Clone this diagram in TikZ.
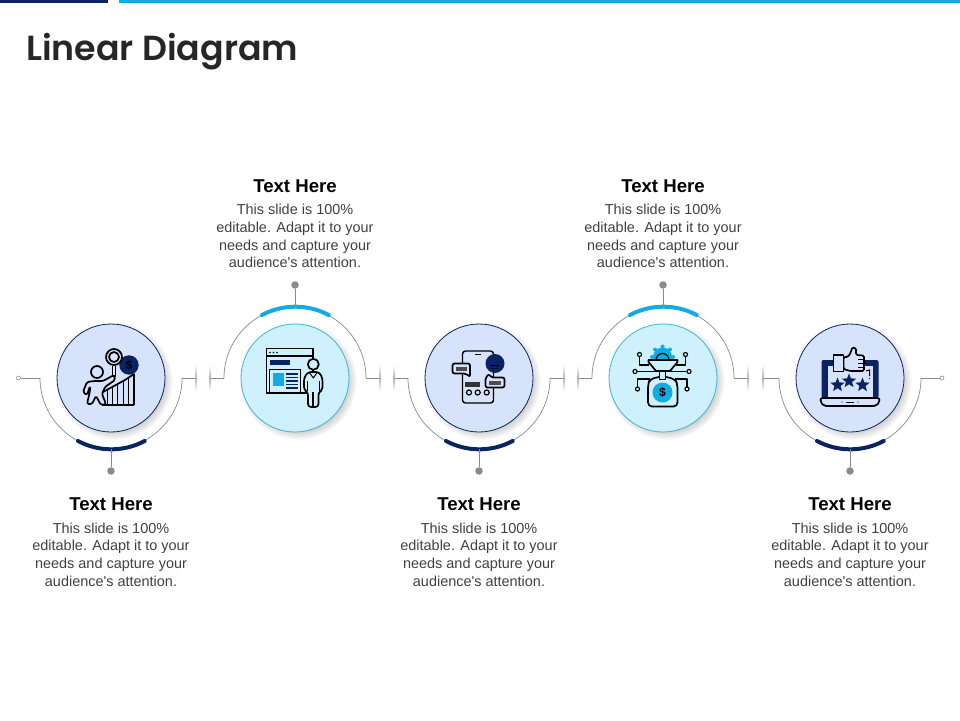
\documentclass[tikz,border=0pt]{standalone}
\usepackage{fontspec}
\setmainfont{Liberation Sans}
\newfontfamily\titlefont{Poppins SemiBold}
\usetikzlibrary{shapes.geometric}
\definecolor{navy}{HTML}{0A2463}
\definecolor{skyline}{HTML}{12ABE3}
\definecolor{paleblue}{HTML}{D7E3FA}
\definecolor{palecyan}{HTML}{CFF1FE}
\definecolor{edgecyan}{HTML}{3FB4D2}
\definecolor{wiregray}{HTML}{8A8A8A}
\pgfdeclareradialshading{softshadow}{\pgfpoint{0bp}{0bp}}{color(0bp)=(black!24); color(20bp)=(black!24); color(25bp)=(white); color(100bp)=(white)}
\tikzset{
  wire/.style={draw=wiregray,line width=0.7pt},
  stem/.style={draw=wiregray,line width=1pt},
  tipdot/.style={circle,fill=wiregray,inner sep=0pt,minimum size=7.5pt},
  opentip/.style={circle,draw=wiregray,fill=white,line width=0.6pt,inner sep=0pt,minimum size=4pt},
  blueball/.style={circle,draw=navy,fill=paleblue,line width=0.8pt,inner sep=0pt,minimum size=108pt},
  cyanball/.style={circle,draw=edgecyan,fill=palecyan,line width=0.8pt,inner sep=0pt,minimum size=108pt},
  headtext/.style={font=\fontsize{18.6}{20}\selectfont\bfseries,text=black},
  bodytext/.style={font=\fontsize{14.45}{17.8}\selectfont,text=black!75,align=center},
  icon/.style={draw=black,line width=1.7pt,line join=round},
  starmark/.style={star,star points=5,star point ratio=2.3,fill=navy,inner sep=0pt,minimum size=15pt},
  coinlabel/.style={font=\fontsize{12}{12}\selectfont\bfseries,text=black,inner sep=0pt},
}
\newcommand{\slidetext}{This slide is 100\%\\editable. Adapt it to your\\needs and capture your\\audience\textquotesingle s attention.}
\begin{document}
\begin{tikzpicture}[x=1pt,y=-1pt]
    \useasboundingbox (0,0) rectangle (960,720);

    % Barre in alto e titolo
    \fill[navy] (0,0) rectangle (108,3);
    \fill[skyline] (119,0) rectangle (960,3);
    \node[anchor=base west,inner sep=0pt,font=\fontsize{34.8}{36}\selectfont\titlefont,text=black!85] (title) at (26,60) {Linear Diagram};

    % Ombre dei cerchi
    \foreach \cx in {111,295,479,663,850}
        \shade[shading=softshadow] (\cx+3,381) circle (59);

    % Cerchi
    \node[blueball] (ballA) at (111,378) {};
    \node[cyanball] (ballB) at (295,378) {};
    \node[blueball] (ballC) at (479,378) {};
    \node[cyanball] (ballD) at (663,378) {};
    \node[blueball] (ballE) at (850,378) {};

    % Estremi della linea
    \node[opentip] (tipL) at (18.5,378) {};
    \node[opentip] (tipR) at (942,378) {};

    % Linea, tratti e archi
    \coordinate (startA) at (40,378);
    \coordinate (endA) at (182,378);
    \coordinate (startB) at (224,378);
    \coordinate (endB) at (366,378);
    \coordinate (startC) at (408,378);
    \coordinate (endC) at (550,378);
    \coordinate (startD) at (592,378);
    \coordinate (endD) at (734,378);
    \coordinate (startE) at (779,378);
    \coordinate (endE) at (921,378);
    \draw[wire] (tipL) -- (startA);
    \draw[wire] (endE) -- (tipR);
    \foreach \a/\b/\px/\qx in {endA/startB/196/210,endB/startC/380/394,endC/startD/564/578,endD/startE/748/763}{
        \draw[wire] (\a) -- (\px,378);
        \draw[wire] (\qx,378) -- (\b);
        \shade[top color=white,bottom color=white,middle color=black!30] (\px-1,365) rectangle (\px+1,391);
        \shade[top color=white,bottom color=white,middle color=black!30] (\qx-1,365) rectangle (\qx+1,391);
    }
    \foreach \s in {startA,startC,startE}
        \draw[wire] (\s) arc (180:0:71);
    \foreach \s in {startB,startD}
        \draw[wire] (\s) arc (180:360:71);

    % Tratti spessi, steli e punti
    \foreach \c/\t in {111/A,479/C,850/E}{
        \draw[navy,line width=4pt,line cap=round] ([shift={(-33,63)}]\c,378) arc (118:62:71);
        \node[tipdot] (dot\t) at (\c,471) {};
        \draw[stem] (\c,449) -- (dot\t);
    }
    \foreach \c/\t in {295/B,663/D}{
        \draw[skyline,line width=4pt,line cap=round] ([shift={(-33,-63)}]\c,378) arc (242:298:71);
        \node[tipdot] (dot\t) at (\c,285) {};
        \draw[stem] (\c,307) -- (dot\t);
    }

    % Testi
    \foreach \c/\t in {295/B,663/D}{
        \node[headtext] (head\t) at (\c,186) {Text Here};
        \node[bodytext,anchor=north] (body\t) at (\c,200.5) {\slidetext};
    }
    \foreach \c/\t in {111/A,479/C,850/E}{
        \node[headtext] (head\t) at (\c,504) {Text Here};
        \node[bodytext,anchor=north] (body\t) at (\c,519) {\slidetext};
    }

    % Icona: persona, lente e grafico
    \fill[navy] (129,365) circle (9.7);
    \node[coinlabel] (coinA) at (129,365) {\$};
    \draw[icon] (114,357) circle (8);
    \draw[icon] (114,357) circle (5);
    \draw[icon] (112.5,365.5) -- (112.5,376) -- (115.5,376) -- (115.5,365.5);
    \draw[icon] (97,372) circle (6);
    \draw[icon,rounded corners=1.5pt] (94,381) -- (103,381) -- (114,375) -- (115,380) -- (105,387) -- (102,394) -- (106,404) -- (101,405) -- (96,396) -- (92,404) -- (87,404) -- (90,391) -- (90,386) -- (87,395) -- (83,392) -- (87,382) -- cycle;
    \draw[icon] (102,405) -- (134,405);
    \draw[icon] (134,405) -- (134,374) -- (125,380) -- (103,392);
    \foreach \bx/\by in {107/389,112/386,117/383,123/380,128/377}
        \draw[black,line width=1pt] (\bx,\by) -- (\bx,405);

    % Icona: finestra e persona
    \draw[icon,line width=1.6pt] (266.5,348.5) rectangle (313,393);
    \draw[icon] (266.5,356) -- (313,356);
    \foreach \dx in {270,273.5,277}
        \fill[black] (\dx,352.5) circle (0.9);
    \fill[navy] (270,359.5) rectangle (290,365);
    \draw[icon,fill=palecyan] (269.5,369.5) rectangle (300.5,392.5);
    \fill[skyline] (273,373) rectangle (284,386);
    \foreach \ly in {374,377.5,381,384.5,388}
        \draw[navy,line width=1.6pt] (286,\ly) -- (298,\ly);
    \draw[icon,fill=palecyan,rounded corners=3pt] (308,407) -- (308,392) -- (304,390) -- (304,378) -- (308,372) -- (319,372) -- (322.5,378) -- (322.5,390) -- (318.5,392) -- (318.5,407) -- cycle;
    \draw[icon] (313.3,392) -- (313.3,407);
    \draw[icon,line width=1pt] (309,372) -- (313.3,378) -- (317.5,372);
    \draw[icon,line width=1pt] (307.5,381) -- (307.5,391);
    \draw[icon,line width=1pt] (319,381) -- (319,391);
    \draw[icon,fill=palecyan] (313.3,364.3) circle (5.5);

    % Icona: telefono e messaggi
    \draw[icon,line width=1.4pt,rounded corners=3pt] (462.5,351) rectangle (493.5,403);
    \draw[icon,line width=1pt] (475,354.5) -- (481,354.5);
    \fill[navy] (495,363.5) circle (9.5);
    \draw[black,line width=1pt] (490,365) -- (499,365);
    \draw[black,line width=1pt] (491,368) -- (498,368);
    \draw[icon,fill=paleblue,rounded corners=2pt] (452.5,363.5) -- (470,363.5) -- (470,377) -- (466,373.5) -- (452.5,373.5) -- cycle;
    \fill[black!70] (456,366.5) rectangle (467,370.5);
    \draw[icon,fill=paleblue,rounded corners=2pt] (485.5,377.5) -- (489,374) -- (491,377.5) -- (504.5,377.5) -- (504.5,387.5) -- (485.5,387.5) -- cycle;
    \fill[black!70] (489,380.5) rectangle (501,384.5);
    \fill[black!80] (465,381.5) rectangle (480,386.5);
    \foreach \dx in {469,477.7,486.7}
        \draw[icon,line width=1.2pt] (\dx,392.5) circle (2.5);

    % Icona: sacco, ingranaggio e circuito
    \fill[skyline] (662.5,357) circle (9.5);
    \foreach \ga in {0,45,...,315}
        \fill[skyline] (662.5,357) ++(\ga:10.5) circle (2);
    \draw[icon,fill=palecyan] (648.5,360) -- (677.5,360) -- (677.5,362) -- (670,371) -- (656,371) -- (648.5,362) -- cycle;
    \draw[icon,line width=1.2pt] (656,360) arc (180:360:6.5);
    \draw[icon] (637,371.5) -- (686,371.5);
    \node[opentip,draw=black,line width=1.2pt] (wireW) at (635,371.5) {};
    \node[opentip,draw=black,line width=1.2pt] (wireO) at (689,371.5) {};
    \draw[icon,line width=1.4pt] (639.5,357) -- (639.5,365) -- (649,365);
    \draw[icon,line width=1.4pt] (685.5,357) -- (685.5,365) -- (676,365);
    \draw[icon,line width=1.4pt] (637.5,387) -- (637.5,379) -- (650,379);
    \draw[icon,line width=1.4pt] (687,387) -- (687,379) -- (675,379);
    \foreach \dx/\dy/\n in {639.5/354.5/a,685.5/354.5/b,637.5/389/c,687/389/d}
        \node[opentip,draw=black,line width=1.2pt] (circ\n) at (\dx,\dy) {};
    \draw[icon,rounded corners=4pt,fill=palecyan] (659,377) -- (650,379) -- (648,384) -- (648,406.5) -- (677.5,406.5) -- (677.5,384) -- (675,379) -- (666,377);
    \draw[icon,line width=1.2pt] (659.5,371.5) rectangle (665.5,379.5);
    \fill[skyline] (662.5,392.5) circle (10);
    \node[coinlabel] (coinD) at (662.5,392.5) {\$};

    % Icona: portatile e pollice
    \fill[navy,rounded corners=2pt] (821.5,360) rectangle (878.5,398);
    \fill[paleblue] (827.5,366) rectangle (872.5,397.5);
    \draw[icon,fill=paleblue,rounded corners=2pt] (820.5,398) -- (879.5,398) -- (879.5,402) -- (876,406) -- (824,406) -- (820.5,402) -- cycle;
    \draw[black,line width=1pt] (846,402) -- (854,402);
    \fill[black] (842,402) circle (0.6);
    \fill[black] (858,402) circle (0.6);
    \node[starmark] (starA) at (837.5,385) {};
    \node[starmark] (starB) at (849,381) {};
    \node[starmark] (starC) at (862.5,385) {};
    \draw[icon,fill=paleblue,rounded corners=1.5pt] (843.5,357) -- (848,357) -- (851,352) -- (852,347.5) -- (856,348) -- (856,355) -- (864,355.5) -- (864,371) -- (850,371) -- (843.5,369) -- cycle;
    \draw[icon,fill=paleblue] (833.5,355) rectangle (843.5,371.5);
    \draw[icon,line width=1.2pt] (858,359.5) -- (864,359.5);
    \draw[icon,line width=1.2pt] (858,363.5) -- (864,363.5);
    \draw[icon,line width=1.2pt] (858,367.5) -- (864,367.5);
    \draw[black,line width=1pt] (866,371) -- (869.5,370) -- (869.5,376);
    \fill[black] (869.5,378.5) circle (0.6);
\end{tikzpicture}
\end{document}
